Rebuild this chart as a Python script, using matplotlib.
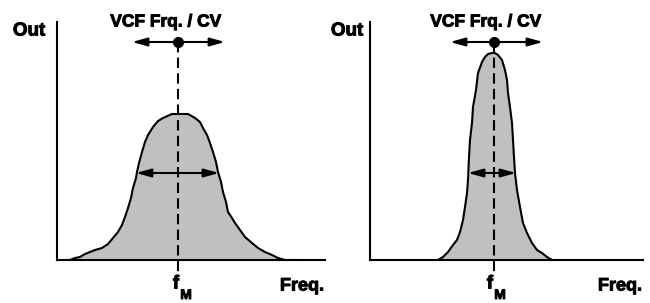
import numpy as np
import matplotlib
matplotlib.use("Agg")
import matplotlib.pyplot as plt
import matplotlib.patheffects as pe

# 左: 広い帯域 (freq, level) -- 1 単位 = 1 px
wide_freq = [10, 13, 18, 23, 28, 33, 38, 45, 51, 56, 61, 65, 68, 71, 74, 76, 79,
             80, 82, 85, 88, 91, 96, 101, 106, 115, 121,
             131, 138, 143, 146, 150, 153, 156, 159, 161, 164, 166, 169, 171,
             175, 178, 183, 188, 195, 201, 208, 215, 221, 228, 240]
wide_level = [0, 0, 2, 3, 6, 8, 10, 12, 16, 22, 28, 35, 43, 52, 62, 72, 82,
              88, 97, 108, 118, 125, 133, 139, 142, 146, 146,
              146, 142, 138, 132, 125, 117, 108, 98, 88, 78, 68, 58, 48,
              42, 37, 30, 23, 17, 12, 8, 5, 2, 0, 0]

# 右: 狭い帯域
narrow_freq = [68, 73, 78, 83, 87, 90, 93, 95, 97, 98, 99, 100, 102, 103, 106,
               108, 112, 115, 118, 122, 124,
               125, 128, 132, 135, 137, 138, 140, 142, 143, 144, 145, 147, 150,
               153, 157, 162, 167, 172, 177, 182]
narrow_level = [0, 3, 8, 15, 20, 28, 40, 53, 67, 80, 103, 120, 137, 153, 170,
                187, 198, 203, 206, 207, 207,
                207, 205, 200, 190, 180, 167, 153, 137, 120, 103, 87, 70, 53,
                37, 27, 17, 10, 7, 3, 0]

# 各パネル: 中心周波数, 帯域幅矢印, 上の矢印, 軸の長さ
panels = [
    dict(freq=wide_freq, level=wide_level, fm=121, bw=(79, 162), top=(75, 168),
         xmax=268, out_x=-28, title_x=109, fx=119, freqlab_x=245),
    dict(freq=narrow_freq, level=narrow_level, fm=124, bw=(98, 146), top=(80, 173),
         xmax=273, out_x=-23, title_x=116, fx=120, freqlab_x=250),
]
axes_left = [57, 370]

W, H = 650, 303
fig = plt.figure(figsize=(6.5, 3.03), dpi=100)
bold = dict(family=["Liberation Sans", "DejaVu Sans"], weight="bold", color="k",
            path_effects=[pe.withStroke(linewidth=0.7, foreground="k")])

for p, x0 in zip(panels, axes_left):
    ax = fig.add_axes([x0 / W, 43 / H, p["xmax"] / W, 238 / H])
    ax.set_xlim(0, p["xmax"])
    ax.set_ylim(0, 238)
    for s in ["top", "right"]:
        ax.spines[s].set_visible(False)
    for s in ["left", "bottom"]:
        ax.spines[s].set_linewidth(1.5)
    ax.set_xticks([])
    ax.set_yticks([])
    ax.patch.set_alpha(0)

    ax.fill_between(p["freq"], p["level"], 0, color="#c0c0c0", lw=0, zorder=1)
    ax.plot(p["freq"], p["level"], color="k", lw=1.5, zorder=2)

    # 中心周波数の破線
    ax.plot([p["fm"], p["fm"]], [218, -16], color="k", lw=1.5,
            dashes=(5, 2.5), clip_on=False, zorder=3)
    ax.plot(p["fm"], 218, "o", color="k", ms=7, clip_on=False, zorder=4)

    arrow = dict(arrowstyle="<|-|>,head_length=0.9,head_width=0.25",
                 color="k", lw=1.5, shrinkA=0, shrinkB=0, mutation_scale=10)
    ax.annotate("", xy=(p["top"][1], 218), xytext=(p["top"][0], 218),
                arrowprops=arrow, annotation_clip=False)
    ax.annotate("", xy=(p["bw"][1], 87), xytext=(p["bw"][0], 87),
                arrowprops=arrow, annotation_clip=False)

    ax.text(p["out_x"], 229, "Out", fontsize=13.5, ha="center", va="center",
            clip_on=False, **bold)
    ax.text(p["title_x"], 238, "VCF Frq. / CV", fontsize=12.5, ha="center",
            va="center", clip_on=False, **bold)
    ax.text(p["freqlab_x"], -26, "Freq.", fontsize=13, ha="center",
            va="center", clip_on=False, **bold)
    ax.text(p["fx"], -24, "f", fontsize=13.5, ha="center", va="center",
            clip_on=False, **bold)
    ax.text(p["fx"] + 10, -35, "M", fontsize=10, ha="center", va="center",
            clip_on=False, **bold)

plt.savefig("out.png", dpi=100)
